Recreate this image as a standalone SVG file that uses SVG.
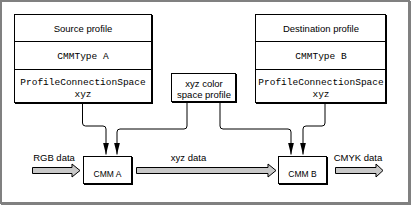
<svg xmlns="http://www.w3.org/2000/svg" width="411" height="206" viewBox="0 0 411 206">
<style>
.sans{font-family:"Liberation Sans",Arial,sans-serif;font-size:9.5px;fill:#000;text-anchor:middle}
.mono{font-family:"Liberation Mono","Courier New",monospace;font-size:9.5px;fill:#000;text-anchor:middle}
.box{fill:#fff;stroke:#000;stroke-width:1}
.shadow{fill:#000}
.div{stroke:#000;stroke-width:1}
.conn{fill:none;stroke:#000;stroke-width:1}
.flow{fill:#c8c8c8;stroke:#000;stroke-width:1}
</style>
<defs>
<marker id="ah" viewBox="-12 -4 13 8" refX="0" refY="0" markerWidth="13" markerHeight="8" markerUnits="userSpaceOnUse" orient="auto">
<path d="M0,0 L-12,-3 L-12,3 Z" fill="#000"/>
</marker>
</defs>
<rect width="411" height="206" fill="#fff"/>
<g id="frame">
<rect x="1" y="1" width="408" height="202" fill="none" stroke="#808080" stroke-width="2"/>
<path d="M410.5,1 V205 M1,204.5 H411" stroke="#808080" stroke-width="1" fill="none"/>
</g>
<g id="source-profile">
<rect class="shadow" x="15" y="15" width="138" height="89"/>
<rect class="box" x="14.5" y="14.5" width="137" height="88"/>
<line class="div" x1="14.5" y1="41.5" x2="151.5" y2="41.5"/>
<line class="div" x1="14.5" y1="69.5" x2="151.5" y2="69.5"/>
<text class="sans" x="83" y="31.5">Source profile</text>
<text class="mono" x="83" y="58.5">CMMType A</text>
<text class="mono" x="83" y="85">ProfileConnectionSpace</text>
<text class="mono" x="83" y="96.5">xyz</text>
</g>
<g id="destination-profile">
<rect class="shadow" x="256" y="15" width="131" height="89"/>
<rect class="box" x="255.5" y="14.5" width="130" height="88"/>
<line class="div" x1="255.5" y1="41.5" x2="385.5" y2="41.5"/>
<line class="div" x1="255.5" y1="69.5" x2="385.5" y2="69.5"/>
<text class="sans" x="321" y="31.5">Destination profile</text>
<text class="mono" x="321" y="58.5">CMMType B</text>
<text class="mono" x="321" y="85">ProfileConnectionSpace</text>
<text class="mono" x="321" y="96.5">xyz</text>
</g>
<g id="xyz-profile">
<rect class="shadow" x="172" y="74" width="65" height="29"/>
<rect class="box" x="171.5" y="73.5" width="64" height="28"/>
<text class="sans" x="204" y="87">xyz color</text>
<text class="sans" x="204" y="97.5">space profile</text>
</g>
<g id="cmm-a">
<rect class="shadow" x="84" y="157" width="49" height="28"/>
<rect class="box" x="83.5" y="156.5" width="48" height="27"/>
<text class="sans" x="107.5" y="177" style="font-size:8.5px">CMM A</text>
</g>
<g id="cmm-b">
<rect class="shadow" x="279" y="157" width="49" height="28"/>
<rect class="box" x="278.5" y="156.5" width="48" height="27"/>
<text class="sans" x="302.5" y="177" style="font-size:8.5px">CMM B</text>
</g>
<g id="connectors">
<path class="conn" marker-end="url(#ah)" d="M82.5,104 V123 Q82.5,126 85.5,126 H103 Q106,126 106,129 V154.5"/>
<path class="conn" marker-end="url(#ah)" d="M187,103 V126 Q187,129 184,129 H120 Q117,129 117,132 V154.5"/>
<path class="conn" marker-end="url(#ah)" d="M220,103 V126 Q220,129 223,129 H288 Q291,129 291,132 V154.5"/>
<path class="conn" marker-end="url(#ah)" d="M325,104 V123 Q325,126 322,126 H306 Q303,126 303,129 V154.5"/>
<path class="flow" d="M32.5,167.5 H72 V164 L80,170.5 L72,177 V173.5 H32.5 Z"/>
<path class="flow" d="M136.5,167.5 H268 V164 L276,170.5 L268,177 V173.5 H136.5 Z"/>
<path class="flow" d="M335.5,167.5 H376 V164 L383,170.5 L376,177 V173.5 H335.5 Z"/>
<text class="sans" x="54" y="160.5">RGB data</text>
<text class="sans" x="188.5" y="161">xyz data</text>
<text class="sans" x="358" y="160.5">CMYK data</text>
</g>
</svg>
